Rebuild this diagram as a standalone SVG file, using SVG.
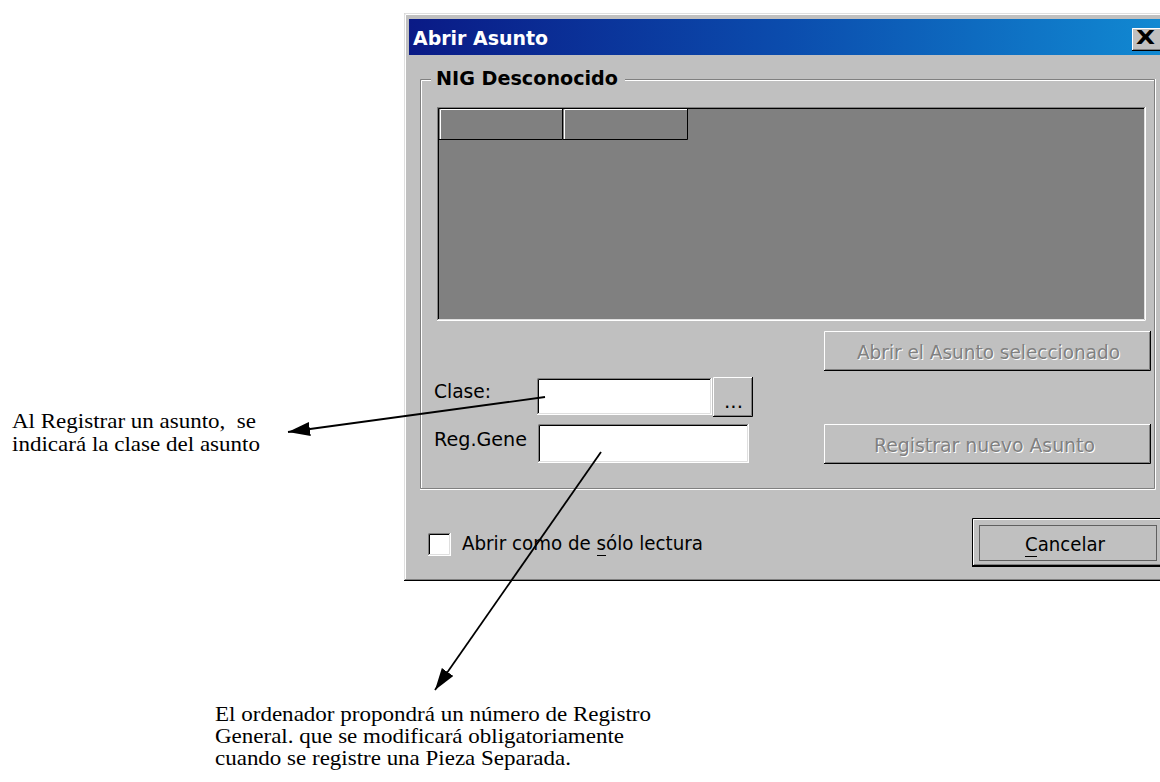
<svg xmlns="http://www.w3.org/2000/svg" width="1160" height="782" viewBox="0 0 1160 782">
  <defs>
    <linearGradient id="caption" x1="0" y1="0" x2="1" y2="0">
      <stop offset="0" stop-color="#0a1a86"/>
      <stop offset="0.5" stop-color="#0b4cad"/>
      <stop offset="1" stop-color="#1189d2"/>
    </linearGradient>
    <marker id="arrow" markerUnits="userSpaceOnUse" markerWidth="24" markerHeight="16" refX="22" refY="7" orient="auto">
      <path d="M0,0 L22,7 L0,14 z" fill="#000"/>
    </marker>
    <style>
      .ui { font-family: "DejaVu Sans", "Liberation Sans", sans-serif; font-size: 20px; fill: #000; }
      .bold { font-weight: bold; }
      .off { fill: #808080; }
      .shade { fill: #ffffff; }
      .note { font-family: "Liberation Serif", "Times New Roman", serif; font-size: 21px; fill: #000; }
      .hi { stroke: #ffffff; fill: none; }
      .lt { stroke: #dfdfdf; fill: none; }
      .md { stroke: #808080; fill: none; }
      .dk { stroke: #000000; fill: none; }
      .link { stroke: #000; stroke-width: 1.8; fill: none; marker-end: url(#arrow); }
    </style>
  </defs>

  <rect width="1160" height="782" fill="#ffffff"/>

  <!-- dialog window -->
  <g id="dialog">
    <rect x="404" y="13" width="760" height="568" fill="#c0c0c0"/>
    <path class="lt" d="M404.5,580 V13.5 H1160"/>
    <path class="hi" d="M405.5,579 V14.5 H1160"/>
    <path class="dk" d="M404,580.5 H1160"/>
    <path class="md" d="M405,579.5 H1160"/>

    <!-- caption bar -->
    <rect x="409" y="19" width="751" height="36" fill="url(#caption)"/>
    <text class="ui bold" x="413" y="45" font-size="21" textLength="135" lengthAdjust="spacingAndGlyphs" style="fill:#fff">Abrir Asunto</text>

    <!-- close box -->
    <g id="close-button">
      <rect x="1132" y="28" width="30" height="23" fill="#c0c0c0"/>
      <path class="hi" d="M1132.5,50 V28.5 H1162"/>
      <path class="dk" d="M1132,50.5 H1162"/>
      <path class="md" d="M1133,49.5 H1162"/>
      <text class="ui bold" x="1136" y="44" font-size="17" textLength="19" lengthAdjust="spacingAndGlyphs">X</text>
    </g>

    <!-- group frame -->
    <g id="group-nig">
      <path class="md" d="M420.5,488.5 V79.5 H1154.5 V488.5 Z"/>
      <path class="hi" d="M421.5,488 V80.5 H1154 M1155.5,79 V489.5 H420"/>
      <rect x="431" y="68" width="194" height="20" fill="#c0c0c0"/>
      <text class="ui bold" x="436" y="85" textLength="182" lengthAdjust="spacingAndGlyphs">NIG Desconocido</text>
    </g>

    <!-- list view -->
    <g id="list-view">
      <rect x="437" y="107" width="709" height="214" fill="#808080"/>
      <path class="md" d="M437.5,320 V107.5 H1145"/>
      <path class="dk" d="M438.5,319 V108.5 H1144"/>
      <path class="hi" d="M437,320.5 H1145.5 V107"/>
      <path class="lt" d="M438,319.5 H1144.5 V108"/>
      <!-- column headers -->
      <path class="hi" d="M440.5,139 V109.5 H562"/>
      <path class="dk" d="M439,139.5 H562.5 V109"/>
      <path class="hi" d="M564.5,139 V109.5 H687"/>
      <path class="dk" d="M563,139.5 H687.5 V109"/>
    </g>

    <!-- open-selected button (disabled) -->
    <g id="btn-abrir">
      <rect x="824" y="331" width="327" height="40" fill="#c0c0c0"/>
      <path class="hi" d="M824.5,370 V331.5 H1150"/>
      <path class="dk" d="M824,370.5 H1150.5 V331"/>
      <path class="md" d="M825,369.5 H1149.5 V332"/>
      <text class="ui shade" x="858" y="360" textLength="263" lengthAdjust="spacingAndGlyphs">Abrir el Asunto seleccionado</text>
      <text class="ui off" x="857" y="359" textLength="263" lengthAdjust="spacingAndGlyphs">Abrir el Asunto seleccionado</text>
    </g>

    <!-- class field -->
    <g id="field-clase">
      <text class="ui" x="434" y="398" textLength="57" lengthAdjust="spacingAndGlyphs">Clase:</text>
      <rect x="537" y="378" width="175" height="37" fill="#ffffff"/>
      <path class="md" d="M537.5,414 V378.5 H711"/>
      <path class="dk" d="M538.5,413 V379.5 H710"/>
      <path class="hi" d="M537,414.5 H711.5 V378"/>
      <path class="lt" d="M538,413.5 H710.5 V379"/>
    </g>

    <!-- ellipsis button -->
    <g id="btn-dots">
      <rect x="713" y="377" width="40" height="40" fill="#c0c0c0"/>
      <path class="hi" d="M713.5,416 V377.5 H752"/>
      <path class="dk" d="M713,416.5 H752.5 V377"/>
      <path class="md" d="M714,415.5 H751.5 V378"/>
      <text class="ui" x="724" y="408" textLength="19" lengthAdjust="spacingAndGlyphs">...</text>
    </g>

    <!-- general register field -->
    <g id="field-reggene">
      <text class="ui" x="434" y="446" textLength="93" lengthAdjust="spacingAndGlyphs">Reg.Gene</text>
      <rect x="538" y="424" width="211" height="39" fill="#ffffff"/>
      <path class="md" d="M538.5,462 V424.5 H748"/>
      <path class="dk" d="M539.5,461 V425.5 H747"/>
      <path class="hi" d="M538,462.5 H748.5 V424"/>
      <path class="lt" d="M539,461.5 H747.5 V425"/>
    </g>

    <!-- register-new button (disabled) -->
    <g id="btn-registrar">
      <rect x="824" y="424" width="327" height="40" fill="#c0c0c0"/>
      <path class="hi" d="M824.5,463 V424.5 H1150"/>
      <path class="dk" d="M824,463.5 H1150.5 V424"/>
      <path class="md" d="M825,462.5 H1149.5 V425"/>
      <text class="ui shade" x="875" y="453" textLength="221" lengthAdjust="spacingAndGlyphs">Registrar nuevo Asunto</text>
      <text class="ui off" x="874" y="452" textLength="221" lengthAdjust="spacingAndGlyphs">Registrar nuevo Asunto</text>
    </g>

    <!-- read-only checkbox -->
    <g id="chk-lectura">
      <rect x="428" y="533" width="23" height="23" fill="#ffffff"/>
      <path class="md" d="M428.5,555 V533.5 H450"/>
      <path class="dk" d="M429.5,554 V534.5 H449"/>
      <path class="hi" d="M428,555.5 H450.5 V533"/>
      <path class="lt" d="M429,554.5 H449.5 V534"/>
      <text class="ui" x="462" y="550" textLength="241" lengthAdjust="spacingAndGlyphs">Abrir como de sólo lectura</text>
      <line x1="597" y1="555.5" x2="606" y2="555.5" stroke="#000"/>
    </g>

    <!-- cancel button (default) -->
    <g id="btn-cancelar">
      <rect x="972" y="518" width="190" height="49" fill="#c0c0c0"/>
      <path class="dk" d="M972.5,567 V518.5 H1162 M972,566.5 H1162"/>
      <path class="hi" d="M973.5,565 V519.5 H1162"/>
      <path class="dk" d="M973,565.5 H1162"/>
      <path class="md" d="M974,564.5 H1162"/>
      <rect x="979.5" y="525.5" width="177" height="35" fill="none" stroke="#000" stroke-dasharray="1 1"/>
      <text class="ui" x="1025" y="551" textLength="80" lengthAdjust="spacingAndGlyphs">Cancelar</text>
      <line x1="1025" y1="556.5" x2="1037" y2="556.5" stroke="#000"/>
    </g>
  </g>

  <!-- callout notes -->
  <g id="note-clase">
    <text class="note" xml:space="preserve" x="12" y="428" textLength="244" lengthAdjust="spacingAndGlyphs">Al Registrar un asunto,  se</text>
    <text class="note" x="12" y="451" textLength="248" lengthAdjust="spacingAndGlyphs">indicará la clase del asunto</text>
  </g>

  <g id="note-reggene">
    <text class="note" x="215" y="721" textLength="436" lengthAdjust="spacingAndGlyphs">El ordenador propondrá un número de Registro</text>
    <text class="note" x="215" y="743" textLength="409" lengthAdjust="spacingAndGlyphs">General. que se modificará obligatoriamente</text>
    <text class="note" x="215" y="765" textLength="356" lengthAdjust="spacingAndGlyphs">cuando se registre una Pieza Separada.</text>
  </g>

  <!-- connectors -->
  <g id="connectors">
    <line class="link" x1="545" y1="397" x2="288" y2="432"/>
    <line class="link" x1="601" y1="452" x2="435" y2="690"/>
  </g>
</svg>
